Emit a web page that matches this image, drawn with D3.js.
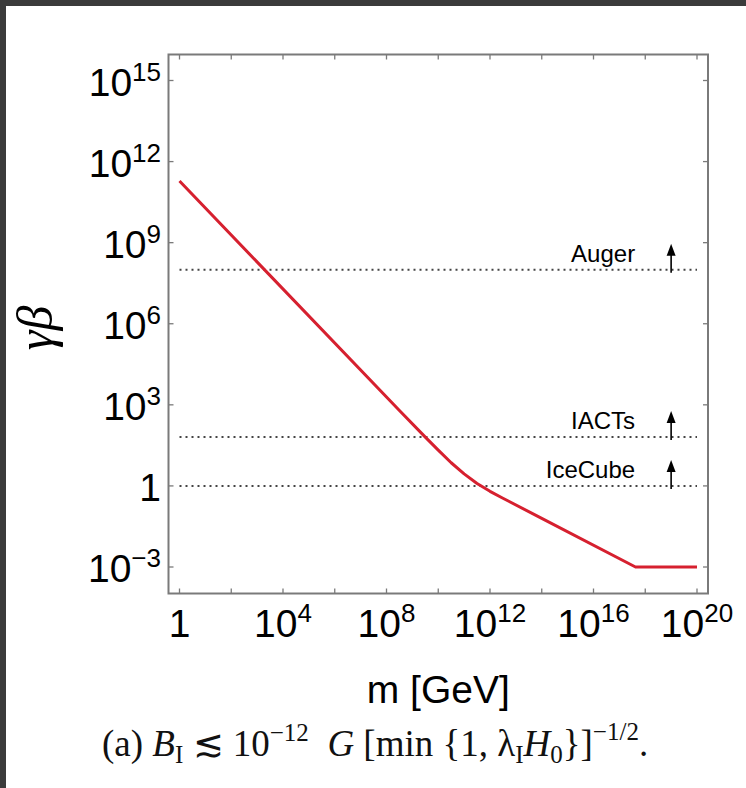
<!DOCTYPE html>
<html>
<head>
<meta charset="utf-8">
<title>gamma beta vs m</title>
<script src="https://cdn.jsdelivr.net/npm/d3@7/dist/d3.min.js"></script>
<style>
body { margin: 0; background: #fff; }
svg { display: block; }
.tick-label { font-family: "Liberation Sans", Arial, Helvetica, sans-serif; fill: #000; }
.caption { font-family: "Liberation Serif", "DejaVu Serif", serif; fill: #111; }
</style>
</head>
<body>
<script>
// curve
var massGeV   = [1, 3.16e8, 3.16e9, 1e10, 3.16e10, 1e11, 3.16e11, 1e12, 3.16e12, 1e14, 4.2e17, 1e20];
var gammaBeta = [1.9e11, 620, 64, 21, 7.2, 2.8, 1.23, 0.63, 0.35, 0.063, 1e-3, 1e-3];

// experiment thresholds (dotted lines)
var expNames = ["Auger", "IACTs", "IceCube"];
var expGammaBeta = [1e8, 65, 1];
var arrowMass = 1e19;

// ticks
var xTickExps = [0, 2, 4, 6, 8, 10, 12, 14, 16, 18, 20];
var xLabelExps = [0, 4, 8, 12, 16, 20];
var yTickExps = [-3, 0, 3, 6, 9, 12, 15];

var width = 746, height = 788;
var frame = {left: 168.5, right: 708, top: 54.5, bottom: 593.5};

var svg = d3.select("body").append("svg")
    .attr("width", width)
    .attr("height", height);

// dark border like the screenshot
svg.append("rect").attr("width", width).attr("height", height).attr("fill", "#3b3b3b");
svg.append("rect").attr("x", 6).attr("y", 6).attr("width", width - 6).attr("height", height - 6).attr("fill", "#fff");

var x = d3.scaleLog().domain([1, 1e20]).range([179.5, 697]);
var y = d3.scaleLog().domain([1e-3, 1e15]).range([567, 80.5]);

// frame
svg.append("rect")
    .attr("x", frame.left).attr("y", frame.top)
    .attr("width", frame.right - frame.left)
    .attr("height", frame.bottom - frame.top)
    .attr("fill", "none")
    .attr("stroke", "#7a7a7a")
    .attr("stroke-width", 2);

var tickG = svg.append("g").attr("stroke", "#7a7a7a").attr("stroke-width", 1.3);
xTickExps.forEach(function(e) {
  var px = x(Math.pow(10, e));
  tickG.append("line").attr("x1", px).attr("x2", px).attr("y1", frame.bottom).attr("y2", frame.bottom - 5);
  tickG.append("line").attr("x1", px).attr("x2", px).attr("y1", frame.top).attr("y2", frame.top + 5);
});
yTickExps.forEach(function(e) {
  var py = y(Math.pow(10, e));
  tickG.append("line").attr("y1", py).attr("y2", py).attr("x1", frame.left).attr("x2", frame.left + 5);
  tickG.append("line").attr("y1", py).attr("y2", py).attr("x1", frame.right).attr("x2", frame.right - 5);
});

function powLabel(sel, e) {
  if (e === 0) { sel.text("1"); return; }
  sel.append("tspan").text("10");
  sel.append("tspan")
      .attr("font-size", 26)
      .attr("dy", -15)
      .text(e < 0 ? "\u2212" + (-e) : e);
}

// x labels
xLabelExps.forEach(function(e) {
  var t = svg.append("text")
      .attr("class", "tick-label")
      .attr("x", x(Math.pow(10, e)))
      .attr("y", 637)
      .attr("text-anchor", "middle")
      .attr("font-size", 39);
  powLabel(t, e);
});

// y labels
yTickExps.forEach(function(e) {
  var t = svg.append("text")
      .attr("class", "tick-label")
      .attr("x", 161)
      .attr("y", y(Math.pow(10, e)) + 15)
      .attr("text-anchor", "end")
      .attr("font-size", 39);
  powLabel(t, e);
});

// thresholds
expNames.forEach(function(name, i) {
  var py = y(expGammaBeta[i]);
  svg.append("line")
      .attr("x1", x(1)).attr("x2", x(1e20))
      .attr("y1", py).attr("y2", py)
      .attr("stroke", "#444")
      .attr("stroke-width", 2)
      .attr("stroke-dasharray", "2 4");
  var ax = x(arrowMass);
  svg.append("line")
      .attr("x1", ax).attr("x2", ax)
      .attr("y1", py + 3).attr("y2", py - 16)
      .attr("stroke", "#000").attr("stroke-width", 1.6);
  svg.append("path")
      .attr("d", "M" + ax + "," + (py - 26) + "l-4.5,12l9,0z")
      .attr("fill", "#000");
  svg.append("text")
      .attr("class", "tick-label")
      .attr("x", ax - 36)
      .attr("y", py - 8)
      .attr("text-anchor", "end")
      .attr("font-size", 24)
      .text(name);
});

// curve
var line = d3.line()
    .x(function(d) { return x(d[0]); })
    .y(function(d) { return y(d[1]); });
svg.append("path")
    .datum(d3.zip(massGeV, gammaBeta))
    .attr("d", line)
    .attr("fill", "none")
    .attr("stroke", "#d6202f")
    .attr("stroke-width", 3)
    .attr("stroke-linejoin", "round");

// axis titles
svg.append("text")
    .attr("class", "tick-label")
    .attr("x", (frame.left + frame.right) / 2)
    .attr("y", 703)
    .attr("text-anchor", "middle")
    .attr("font-size", 39)
    .text("m [GeV]");

svg.append("text")
    .attr("transform", "translate(52,328) rotate(-90)")
    .attr("text-anchor", "middle")
    .attr("font-family", "Liberation Serif, serif")
    .attr("font-style", "italic")
    .attr("font-size", 50)
    .attr("fill", "#000")
    .text("\u03b3\u03b2");

// caption
var cap = svg.append("text")
    .attr("class", "caption")
    .attr("x", 102)
    .attr("y", 756)
    .attr("font-size", 37);
cap.append("tspan").text("(a) ");
cap.append("tspan").attr("font-style", "italic").text("B");
cap.append("tspan").attr("font-size", 25).attr("dy", 7).text("I");
cap.append("tspan").attr("dy", -7).text(" \u2272 10");
cap.append("tspan").attr("font-size", 25).attr("dy", -15).text("\u221212");
cap.append("tspan").attr("dy", 15).text("\u2002");
cap.append("tspan").attr("font-style", "italic").text("G");
cap.append("tspan").text(" [min {1, ");
cap.append("tspan").text("\u03bb");
cap.append("tspan").attr("font-size", 25).attr("dy", 7).text("I");
cap.append("tspan").attr("dy", -7).attr("font-style", "italic").text("H");
cap.append("tspan").attr("font-size", 25).attr("dy", 7).text("0");
cap.append("tspan").attr("dy", -7).text("}]");
cap.append("tspan").attr("font-size", 25).attr("dy", -16).text("\u22121/2");
cap.append("tspan").attr("dy", 16).text(".");
</script>
</body>
</html>
